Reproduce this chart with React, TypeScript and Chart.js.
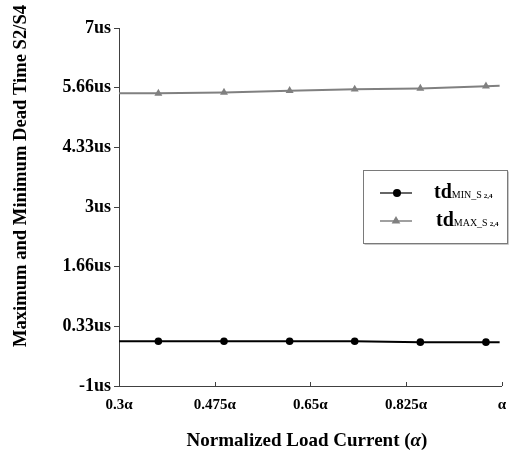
import React, { useEffect, useRef } from 'react';
import { Chart, registerables } from 'chart.js';

Chart.register(...registerables);

// ---- data ----
const loadCurrent = [0.3, 0.372, 0.492, 0.612, 0.731, 0.851, 0.971, 0.996];
const minDeadTime = [0.0, 0.0, 0.0, 0.0, 0.0, -0.02, -0.02, -0.02];
const maxDeadTime = [5.54, 5.54, 5.56, 5.6, 5.63, 5.65, 5.7, 5.71];
const markerShown = [false, true, true, true, true, true, true, false];

const xTickValues = [0.3, 0.475, 0.65, 0.825, 1.0];
const xTickLabels = ['0.3α', '0.475α', '0.65α', '0.825α', 'α'];
const yTickValues = [-1, 0.3333, 1.6667, 3, 4.3333, 5.6667, 7];
const yTickLabels = ['-1us', '0.33us', '1.66us', '3us', '4.33us', '5.66us', '7us'];

const seriesMain = ['td', 'td'];
const seriesSub = ['MIN_S', 'MAX_S'];
const seriesSubSub = ['2,4', '2,4'];

const xTitle = 'Normalized Load Current (';
const xTitleSymbol = 'α';
const xTitleEnd = ')';
const yTitle = 'Maximum and Minimum Dead Time S2/S4';

const SERIF = '"Liberation Serif", "Times New Roman", serif';
const AXIS_COLOR = '#404040';
const MIN_COLOR = '#000000';
const MAX_COLOR = '#808080';

const decorPlugin = {
  id: 'decor',
  afterDraw(chart: any) {
    const ctx = chart.ctx as CanvasRenderingContext2D;
    const area = chart.chartArea;
    const xs = chart.scales.x;

    // inward x tick marks
    ctx.save();
    ctx.strokeStyle = AXIS_COLOR;
    ctx.lineWidth = 1;
    xTickValues.forEach((v) => {
      const px = Math.round(xs.getPixelForValue(v)) + 0.5;
      ctx.beginPath();
      ctx.moveTo(px, area.bottom);
      ctx.lineTo(px, area.bottom - 4);
      ctx.stroke();
    });
    ctx.restore();

    // x title
    ctx.save();
    ctx.fillStyle = '#000';
    ctx.textBaseline = 'alphabetic';
    const fs = 19;
    ctx.font = `bold ${fs}px ${SERIF}`;
    const w1 = ctx.measureText(xTitle).width;
    const w3 = ctx.measureText(xTitleEnd).width;
    ctx.font = `italic bold ${fs}px ${SERIF}`;
    const w2 = ctx.measureText(xTitleSymbol).width;
    const total = w1 + w2 + w3;
    const cx = 307;
    let sx = cx - total / 2;
    const by = 446;
    ctx.font = `bold ${fs}px ${SERIF}`;
    ctx.fillText(xTitle, sx, by);
    sx += w1;
    ctx.font = `italic bold ${fs}px ${SERIF}`;
    ctx.fillText(xTitleSymbol, sx, by);
    sx += w2;
    ctx.font = `bold ${fs}px ${SERIF}`;
    ctx.fillText(xTitleEnd, sx, by);
    ctx.restore();

    // y title
    ctx.save();
    ctx.fillStyle = '#000';
    ctx.font = `bold 18.6px ${SERIF}`;
    ctx.textAlign = 'center';
    ctx.textBaseline = 'alphabetic';
    ctx.translate(26, 176);
    ctx.rotate(-Math.PI / 2);
    ctx.fillText(yTitle, 0, 0);
    ctx.restore();

    // legend
    ctx.save();
    const bx = 363.5, byy = 170.5, bw = 144, bh = 73;
    ctx.strokeStyle = '#c8c8c8';
    ctx.lineWidth = 1;
    ctx.beginPath();
    ctx.moveTo(bx + 1, byy + bh + 1);
    ctx.lineTo(bx + bw + 1, byy + bh + 1);
    ctx.lineTo(bx + bw + 1, byy + 1);
    ctx.stroke();
    ctx.strokeStyle = '#7a7a7a';
    ctx.strokeRect(bx, byy, bw, bh);

    const rows = [193, 221];
    const colors = [MIN_COLOR, MAX_COLOR];
    const lineColors = ['#333333', MAX_COLOR];
    const textX = [434, 436];
    rows.forEach((ry, i) => {
      ctx.strokeStyle = lineColors[i];
      ctx.lineWidth = 1.5;
      ctx.beginPath();
      ctx.moveTo(380, ry);
      ctx.lineTo(412, ry);
      ctx.stroke();
      ctx.fillStyle = colors[i];
      ctx.beginPath();
      if (i === 0) {
        ctx.arc(397, ry, 4, 0, Math.PI * 2);
      } else {
        const r = 5;
        ctx.moveTo(396, ry - r);
        ctx.lineTo(396 + Math.sin((2 * Math.PI) / 3) * r, ry + r / 2);
        ctx.lineTo(396 - Math.sin((2 * Math.PI) / 3) * r, ry + r / 2);
        ctx.closePath();
      }
      ctx.fill();

      const base = ry + 5;
      let tx = textX[i];
      ctx.fillStyle = '#000';
      ctx.textAlign = 'left';
      ctx.textBaseline = 'alphabetic';
      ctx.font = `bold 20px ${SERIF}`;
      ctx.fillText(seriesMain[i], tx, base);
      tx += ctx.measureText(seriesMain[i]).width;
      ctx.font = `10px ${SERIF}`;
      ctx.fillText(seriesSub[i], tx, base);
      tx += ctx.measureText(seriesSub[i]).width + 2;
      ctx.font = `bold 7px ${SERIF}`;
      ctx.fillText(seriesSubSub[i], tx, base);
    });
    ctx.restore();
  },
};

export default function App() {
  const canvasRef = useRef<HTMLCanvasElement | null>(null);

  useEffect(() => {
    document.body.style.margin = '0';
    const canvas = canvasRef.current;
    if (!canvas) return;
    const chart = new Chart(canvas, {
      type: 'line',
      data: {
        datasets: [
          {
            label: 'tdMIN_S2,4',
            data: loadCurrent.map((x, i) => ({ x, y: minDeadTime[i] })),
            borderColor: MIN_COLOR,
            backgroundColor: MIN_COLOR,
            borderWidth: 2,
            pointStyle: 'circle',
            pointRadius: markerShown.map((m) => (m ? 3.8 : 0)),
            pointBorderWidth: 0,
            tension: 0,
          },
          {
            label: 'tdMAX_S2,4',
            data: loadCurrent.map((x, i) => ({ x, y: maxDeadTime[i] })),
            borderColor: MAX_COLOR,
            backgroundColor: MAX_COLOR,
            borderWidth: 2,
            pointStyle: 'triangle',
            pointRadius: markerShown.map((m) => (m ? 4.6 : 0)),
            pointBorderWidth: 0,
            tension: 0,
          },
        ],
      },
      options: {
        responsive: false,
        animation: false,
        devicePixelRatio: 1,
        layout: { padding: { top: 28, right: 6, left: 0, bottom: 0 } },
        plugins: {
          legend: { display: false },
          tooltip: { enabled: false },
          title: { display: false },
        },
        scales: {
          x: {
            type: 'linear',
            min: 0.3,
            max: 1.0,
            afterBuildTicks: (scale: any) => {
              scale.ticks = xTickValues.map((v) => ({ value: v }));
            },
            afterFit: (scale: any) => {
              scale.height = 64;
            },
            ticks: {
              autoSkip: false,
              maxRotation: 0,
              padding: 10,
              color: '#000',
              font: { family: SERIF, size: 15, weight: 'bold' },
              callback: (_v: any, i: number) => xTickLabels[i],
            },
            grid: { display: false, drawTicks: false },
            border: { display: true, color: AXIS_COLOR, width: 1 },
          },
          y: {
            type: 'linear',
            min: -1,
            max: 7,
            afterBuildTicks: (scale: any) => {
              scale.ticks = yTickValues.map((v) => ({ value: v }));
            },
            afterFit: (scale: any) => {
              scale.width = 119;
            },
            ticks: {
              autoSkip: false,
              padding: 3,
              color: '#000',
              font: { family: SERIF, size: 18, weight: 'bold' },
              callback: (_v: any, i: number) => yTickLabels[i],
            },
            grid: {
              display: true,
              drawOnChartArea: false,
              drawTicks: true,
              tickLength: 5,
              color: AXIS_COLOR,
            },
            border: { display: true, color: AXIS_COLOR, width: 1 },
          },
        },
      },
      plugins: [decorPlugin],
    } as any);
    return () => chart.destroy();
  }, []);

  return (
    <div style={{ position: 'absolute', left: 0, top: 0, width: 516, height: 450 }}>
      <canvas ref={canvasRef} width={516} height={450} style={{ width: 516, height: 450 }} />
    </div>
  );
}
